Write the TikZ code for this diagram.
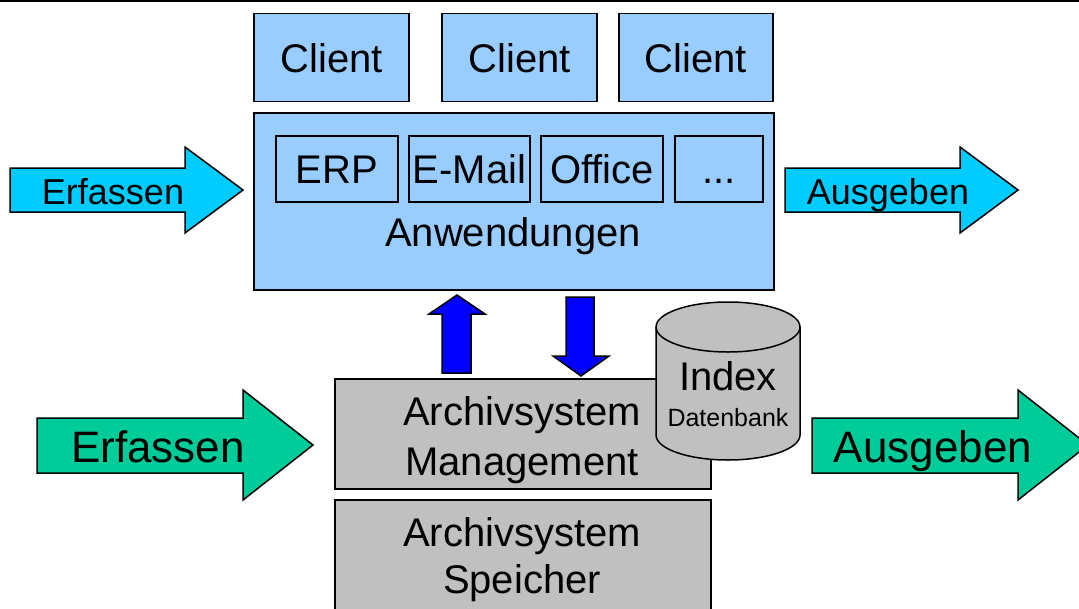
\documentclass[tikz,border=0pt]{standalone}
\usepackage{fontspec}
\setmainfont{Liberation Sans}
\definecolor{appblue}{HTML}{99CCFF}
\definecolor{flowcyan}{HTML}{00CCFF}
\definecolor{flowgreen}{HTML}{00CC99}
\definecolor{archgray}{HTML}{C0C0C0}
\definecolor{pushblue}{HTML}{0000FF}

\begin{document}
\begin{tikzpicture}[x=1pt, y=-1pt, line width=1.5pt,
  appbox/.style={draw, fill=appblue, inner sep=0pt, text height=29pt, text depth=0pt, font=\fontsize{40}{48}\selectfont},
  archbox/.style={draw, fill=archgray, inner sep=0pt},
  archtxt/.style={align=center, font=\fontsize{40}{47}\selectfont},
  flowtxt/.style={anchor=base, font=\fontsize{36}{43}\selectfont},
  bigflow/.style={anchor=base, font=\fontsize{44}{53}\selectfont}]
	\useasboundingbox (0,0) rectangle (1079,608);
	\draw[line width=2pt] (0,1) -- (1079,1);
	% clients
	\node[appbox, minimum width=155, minimum height=88] (client1) at (331.5,57.5) {Client};
	\node[appbox, minimum width=155, minimum height=88] (client2) at (519.5,57.5) {Client};
	\node[appbox, minimum width=154, minimum height=88] (client3) at (696,57.5) {Client};
	% applications
	\node[appbox, minimum width=520, minimum height=177] (anw) at (514,201.5) {};
	\node[flowtxt, font=\fontsize{40}{48}\selectfont] (anwtxt) at (513,246) {Anwendungen};
	\node[appbox, minimum width=122, minimum height=66] (erp) at (337,169) {ERP};
	\node[appbox, minimum width=121, minimum height=66] (mail) at (469.5,169) {E-Mail};
	\node[appbox, minimum width=122, minimum height=66] (office) at (602,169) {Office};
	\node[appbox, minimum width=88, minimum height=66] (more) at (719,169) {...};
	% archive
	\node[archbox, minimum width=376, minimum height=110] (mgmt) at (523,434) {};
	\node[archtxt, font=\fontsize{40}{50}\selectfont] (mgmttxt) at (522,440) {Archivsystem\\Management};
	\node[archbox, minimum width=376, minimum height=120] (store) at (523,560) {};
	\node[archtxt] (storetxt) at (522,560) {Archivsystem\\Speicher};
	\draw[fill=archgray] (656,327) -- (656,435) arc[start angle=180, end angle=0, x radius=72, y radius=25]
	  -- (800,327) arc[start angle=0, end angle=-180, x radius=72, y radius=25] -- cycle;
	\draw (656,327) arc[start angle=180, end angle=0, x radius=72, y radius=25];
	\node[anchor=base, font=\fontsize{40}{48}\selectfont] (idx) at (728,390) {Index};
	\node[anchor=base, font=\fontsize{25}{30}\selectfont] (idxdb) at (728,426) {Datenbank};
	% up and down
	\draw[fill=pushblue] (442,373) -- (442,314) -- (429,314) -- (457,295) -- (485,314) -- (471,314) -- (471,373) -- cycle;
	\draw[fill=pushblue] (566,297) -- (594,297) -- (594,356) -- (609,356) -- (581,376) -- (553,356) -- (566,356) -- cycle;
	% in and out
	\draw[fill=flowcyan] (10,168) -- (185,168) -- (185,147) -- (243,190) -- (185,233) -- (185,212) -- (10,212) -- cycle;
	\node[flowtxt] (appin) at (113,204) {Erfassen};
	\draw[fill=flowcyan] (785,168) -- (960,168) -- (960,147) -- (1018,190) -- (960,233) -- (960,212) -- (785,212) -- cycle;
	\node[flowtxt] (appout) at (888,204) {Ausgeben};
	\draw[fill=flowgreen] (37,418) -- (243,418) -- (243,390) -- (313,445) -- (243,500) -- (243,473) -- (37,473) -- cycle;
	\node[bigflow] (archin) at (158,462) {Erfassen};
	\draw[fill=flowgreen] (812,418) -- (1018,418) -- (1018,390) -- (1088,445) -- (1018,500) -- (1018,473) -- (812,473) -- cycle;
	\node[bigflow] (archout) at (933,462) {Ausgeben};
\end{tikzpicture}
\end{document}
